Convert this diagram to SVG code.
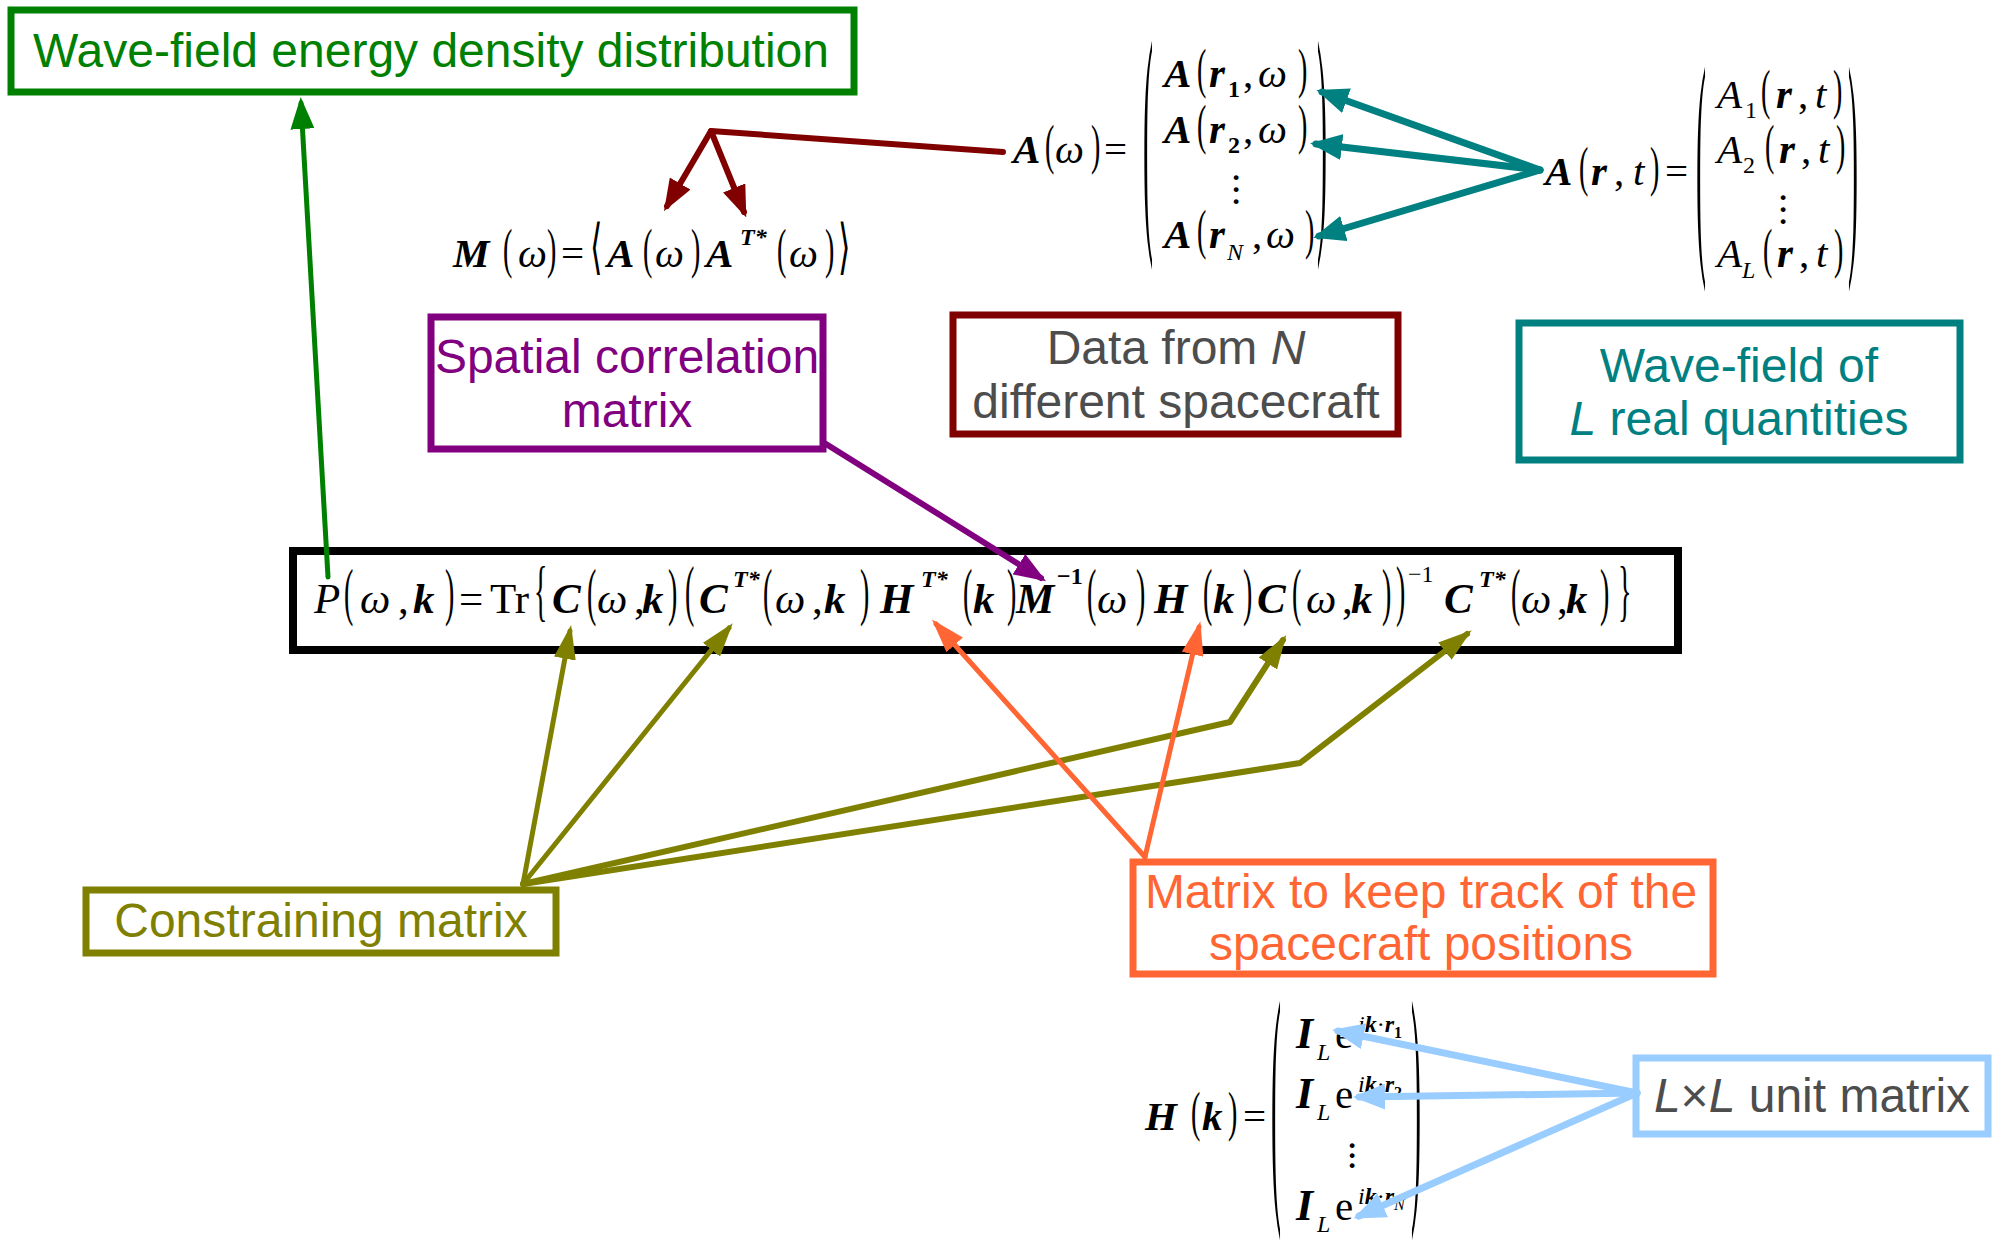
<svg xmlns="http://www.w3.org/2000/svg" width="1999" height="1241" viewBox="0 0 1999 1241">
<style>
.box{fill:#fff;stroke-width:7}
.lbl{font-family:"Liberation Sans",Arial,sans-serif;font-size:48px;text-anchor:middle}
.m{font-family:"Liberation Serif","DejaVu Serif",serif;font-size:41px;fill:#000}
.mm{font-size:43px}
.i{font-style:italic}
.b{font-style:italic;font-weight:bold}
.u{font-style:normal}
.s{font-size:24px}
.ss{font-size:16px}
.pr{font-family:"Liberation Serif","DejaVu Serif",serif;font-size:40px;fill:#000}
.ln{fill:none;stroke-linecap:round;stroke-linejoin:round}
</style>
<defs>
<marker id="hG" markerUnits="userSpaceOnUse" markerWidth="32" markerHeight="24" refX="26" refY="12" orient="auto"><path d="M0,0 L32,12 L0,24 z" fill="#008000"/></marker>
<marker id="hR" markerUnits="userSpaceOnUse" markerWidth="32" markerHeight="24" refX="26" refY="12" orient="auto"><path d="M0,0 L32,12 L0,24 z" fill="#800000"/></marker>
<marker id="hT" markerUnits="userSpaceOnUse" markerWidth="32" markerHeight="26" refX="26" refY="13" orient="auto"><path d="M0,0 L32,13 L0,26 z" fill="#008080"/></marker>
<marker id="hP" markerUnits="userSpaceOnUse" markerWidth="32" markerHeight="24" refX="26" refY="12" orient="auto"><path d="M0,0 L32,12 L0,24 z" fill="#800080"/></marker>
<marker id="hO" markerUnits="userSpaceOnUse" markerWidth="34" markerHeight="22" refX="28" refY="11" orient="auto"><path d="M0,0 L34,11 L0,22 z" fill="#808000"/></marker>
<marker id="hF" markerUnits="userSpaceOnUse" markerWidth="34" markerHeight="22" refX="28" refY="11" orient="auto"><path d="M0,0 L34,11 L0,22 z" fill="#ff6633"/></marker>
<marker id="hB" markerUnits="userSpaceOnUse" markerWidth="32" markerHeight="26" refX="26" refY="13" orient="auto"><path d="M0,0 L32,13 L0,26 z" fill="#99ccff"/></marker>
</defs>
<rect width="1999" height="1241" fill="#fff"/>

<!-- Main formula box -->
<g id="node-main">
<rect x="293" y="551" width="1385" height="99" fill="#fff" stroke="#000" stroke-width="8"/>
<text class="m mm" y="613">
<tspan x="314" class="i">P</tspan>
<tspan x="360" class="i">ω</tspan><tspan x="398" class="u">,</tspan><tspan x="413" class="b">k</tspan>
<tspan x="459" class="u">=</tspan><tspan x="490" class="u">Tr</tspan>
<tspan x="552" class="b">C</tspan><tspan x="597" class="i">ω</tspan><tspan x="634" class="u">,</tspan><tspan x="642" class="b">k</tspan>
<tspan x="699" class="b">C</tspan><tspan x="733" y="587" class="b s">T*</tspan>
<tspan x="775" y="613" class="i">ω</tspan><tspan x="812" class="u">,</tspan><tspan x="824" class="b">k</tspan>
<tspan x="880" class="b">H</tspan><tspan x="921" y="587" class="b s">T*</tspan>
<tspan x="973" y="613" class="b">k</tspan>
<tspan x="1016" class="b">M</tspan><tspan x="1057" y="584" class="s" font-weight="bold">−1</tspan>
<tspan x="1097" y="613" class="i">ω</tspan>
<tspan x="1154" class="b">H</tspan><tspan x="1213" class="b">k</tspan>
<tspan x="1257" class="b">C</tspan><tspan x="1306" class="i">ω</tspan><tspan x="1342" class="u">,</tspan><tspan x="1351" class="b">k</tspan>
<tspan x="1408" y="582" class="s u">−1</tspan>
<tspan x="1444" y="613" class="b">C</tspan><tspan x="1479" y="587" class="b s">T*</tspan>
<tspan x="1521" y="613" class="i">ω</tspan><tspan x="1557" class="u">,</tspan><tspan x="1566" class="b">k</tspan>
</text>
<g class="pr">
<text transform="translate(344 613) scale(0.7 1.6)">(</text>
<text transform="translate(445 613) scale(0.7 1.6)">)</text>
<text transform="translate(534 613) scale(0.7 1.7)">{</text>
<text transform="translate(587 613) scale(0.7 1.6)">(</text>
<text transform="translate(668 613) scale(0.7 1.6)">)</text>
<text transform="translate(685 613) scale(0.7 1.7)">(</text>
<text transform="translate(763 613) scale(0.7 1.6)">(</text>
<text transform="translate(860 613) scale(0.7 1.6)">)</text>
<text transform="translate(963 613) scale(0.7 1.6)">(</text>
<text transform="translate(1007 613) scale(0.7 1.6)">)</text>
<text transform="translate(1087 613) scale(0.7 1.6)">(</text>
<text transform="translate(1136 613) scale(0.7 1.6)">)</text>
<text transform="translate(1203 613) scale(0.7 1.6)">(</text>
<text transform="translate(1243 613) scale(0.7 1.6)">)</text>
<text transform="translate(1292 613) scale(0.7 1.6)">(</text>
<text transform="translate(1382 613) scale(0.7 1.6)">)</text>
<text transform="translate(1396 613) scale(0.7 1.7)">)</text>
<text transform="translate(1511 613) scale(0.7 1.6)">(</text>
<text transform="translate(1600 613) scale(0.7 1.6)">)</text>
<text transform="translate(1618 613) scale(0.7 1.7)">}</text>
</g>
</g>

<!-- M(omega) formula -->
<g id="node-M">
<text class="m" y="267">
<tspan x="453" class="b">M</tspan><tspan x="518" class="i">ω</tspan><tspan x="561" class="u">=</tspan>
<tspan x="607" class="b">A</tspan><tspan x="655" class="i">ω</tspan>
<tspan x="706" class="b">A</tspan><tspan x="740" y="245" class="b s">T*</tspan>
<tspan x="789" y="267" class="i">ω</tspan>
</text>
<g class="pr">
<text transform="translate(503 267) scale(0.7 1.35)">(</text>
<text transform="translate(547 267) scale(0.7 1.35)">)</text>
<text transform="translate(590 267) scale(0.8 1.5)">⟨</text>
<text transform="translate(643 267) scale(0.7 1.35)">(</text>
<text transform="translate(691 267) scale(0.7 1.35)">)</text>
<text transform="translate(777 267) scale(0.7 1.35)">(</text>
<text transform="translate(825 267) scale(0.7 1.35)">)</text>
<text transform="translate(838 267) scale(0.8 1.5)">⟩</text>
</g>
</g>

<!-- A(omega) formula -->
<g id="node-Aomega">
<text class="m" y="163">
<tspan x="1013" class="b">A</tspan><tspan x="1055" class="i">ω</tspan><tspan x="1104" class="u">=</tspan>
</text>
<text class="m" y="87"><tspan x="1164" class="b">A</tspan><tspan x="1209" class="b">r</tspan><tspan x="1228" y="97" class="s u" font-weight="bold">1</tspan><tspan x="1243" y="87" class="u">,</tspan><tspan x="1258" class="i">ω</tspan></text>
<text class="m" y="143"><tspan x="1164" class="b">A</tspan><tspan x="1209" class="b">r</tspan><tspan x="1228" y="153" class="s u" font-weight="bold">2</tspan><tspan x="1243" y="143" class="u">,</tspan><tspan x="1258" class="i">ω</tspan></text>
<text class="m" y="248"><tspan x="1164" class="b">A</tspan><tspan x="1209" class="b">r</tspan><tspan x="1227" y="260" class="s i">N</tspan><tspan x="1252" y="248" class="u">,</tspan><tspan x="1266" class="i">ω</tspan></text>
<text class="m u"><tspan x="1231" y="180">.</tspan><tspan x="1231" y="192">.</tspan><tspan x="1231" y="204">.</tspan></text>
<g class="pr">
<text transform="translate(1045 163) scale(0.7 1.35)">(</text>
<text transform="translate(1091 163) scale(0.7 1.35)">)</text>
<text transform="translate(1143 216) scale(0.75 6.3)">(</text>
<text transform="translate(1317 216) scale(0.75 6.3)">)</text>
<text transform="translate(1197 87) scale(0.7 1.35)">(</text>
<text transform="translate(1298 87) scale(0.7 1.35)">)</text>
<text transform="translate(1197 143) scale(0.7 1.35)">(</text>
<text transform="translate(1298 143) scale(0.7 1.35)">)</text>
<text transform="translate(1197 248) scale(0.7 1.35)">(</text>
<text transform="translate(1305 248) scale(0.7 1.35)">)</text>
</g>
</g>

<!-- A(r,t) formula -->
<g id="node-Art">
<text class="m" y="185">
<tspan x="1545" class="b">A</tspan><tspan x="1591" class="b">r</tspan><tspan x="1614" class="u">,</tspan><tspan x="1633" class="i">t</tspan><tspan x="1665" class="u">=</tspan>
</text>
<text class="m" y="108"><tspan x="1717" class="i">A</tspan><tspan x="1745" y="118" class="s u">1</tspan><tspan x="1776" y="108" class="b">r</tspan><tspan x="1798" class="u">,</tspan><tspan x="1815" class="i">t</tspan></text>
<text class="m" y="163"><tspan x="1717" class="i">A</tspan><tspan x="1743" y="173" class="s u">2</tspan><tspan x="1779" y="163" class="b">r</tspan><tspan x="1801" class="u">,</tspan><tspan x="1818" class="i">t</tspan></text>
<text class="m" y="267"><tspan x="1717" class="i">A</tspan><tspan x="1742" y="278" class="s i">L</tspan><tspan x="1777" y="267" class="b">r</tspan><tspan x="1799" class="u">,</tspan><tspan x="1816" class="i">t</tspan></text>
<text class="m u"><tspan x="1778" y="200">.</tspan><tspan x="1778" y="212">.</tspan><tspan x="1778" y="224">.</tspan></text>
<g class="pr">
<text transform="translate(1579 185) scale(0.7 1.35)">(</text>
<text transform="translate(1650 185) scale(0.7 1.35)">)</text>
<text transform="translate(1696 239) scale(0.75 6.2)">(</text>
<text transform="translate(1848 239) scale(0.75 6.2)">)</text>
<text transform="translate(1761 108) scale(0.7 1.35)">(</text>
<text transform="translate(1833 108) scale(0.7 1.35)">)</text>
<text transform="translate(1765 163) scale(0.7 1.35)">(</text>
<text transform="translate(1836 163) scale(0.7 1.35)">)</text>
<text transform="translate(1763 267) scale(0.7 1.35)">(</text>
<text transform="translate(1834 267) scale(0.7 1.35)">)</text>
</g>
</g>

<!-- H(k) formula -->
<g id="node-H">
<text class="m" y="1130">
<tspan x="1145" class="b">H</tspan><tspan x="1202" class="b">k</tspan><tspan x="1243" class="u">=</tspan>
</text>
<text class="m" y="1048"><tspan x="1296" class="b" font-size="44">I</tspan><tspan x="1317" y="1060" class="s i">L</tspan><tspan x="1335" y="1048" class="u">e</tspan><tspan x="1358" y="1032" class="s i">i</tspan><tspan class="s b">k</tspan><tspan class="s u">·</tspan><tspan class="s b">r</tspan><tspan y="1038" class="ss u" font-weight="bold">1</tspan></text>
<text class="m" y="1108"><tspan x="1296" class="b" font-size="44">I</tspan><tspan x="1317" y="1120" class="s i">L</tspan><tspan x="1335" y="1108" class="u">e</tspan><tspan x="1358" y="1092" class="s i">i</tspan><tspan class="s b">k</tspan><tspan class="s u">·</tspan><tspan class="s b">r</tspan><tspan y="1098" class="ss u" font-weight="bold">2</tspan></text>
<text class="m" y="1220"><tspan x="1296" class="b" font-size="44">I</tspan><tspan x="1317" y="1232" class="s i">L</tspan><tspan x="1335" y="1220" class="u">e</tspan><tspan x="1358" y="1204" class="s i">i</tspan><tspan class="s b">k</tspan><tspan class="s u">·</tspan><tspan class="s b">r</tspan><tspan y="1210" class="ss i">N</tspan></text>
<text class="m u"><tspan x="1347" y="1148">.</tspan><tspan x="1347" y="1158">.</tspan><tspan x="1347" y="1168">.</tspan></text>
<g class="pr">
<text transform="translate(1191 1130) scale(0.7 1.35)">(</text>
<text transform="translate(1228 1130) scale(0.7 1.35)">)</text>
<text transform="translate(1271 1184) scale(0.75 6.6)">(</text>
<text transform="translate(1411 1184) scale(0.75 6.6)">)</text>
</g>
</g>

<!-- Label boxes -->
<g id="node-energy">
<rect class="box" x="11" y="10" width="843" height="82" stroke="#008000"/>
<text class="lbl" x="431" y="67" fill="#008000">Wave-field energy density distribution</text>
</g>
<g id="node-spatial">
<rect class="box" x="431" y="317" width="392" height="132" stroke="#800080"/>
<text class="lbl" x="627" y="373" fill="#800080">Spatial correlation</text>
<text class="lbl" x="627" y="427" fill="#800080">matrix</text>
</g>
<g id="node-data">
<rect class="box" x="953" y="315" width="445" height="119" stroke="#800000"/>
<text class="lbl" x="1176" y="364" fill="#4d4d4d">Data from <tspan font-style="italic">N</tspan></text>
<text class="lbl" x="1176" y="418" fill="#4d4d4d">different spacecraft</text>
</g>
<g id="node-wavefield">
<rect class="box" x="1519" y="323" width="441" height="137" stroke="#008080"/>
<text class="lbl" x="1739" y="382" fill="#008080">Wave-field of</text>
<text class="lbl" x="1739" y="435" fill="#008080"><tspan font-style="italic">L</tspan> real quantities</text>
</g>
<g id="node-constraining">
<rect class="box" x="86" y="890" width="470" height="63" stroke="#808000"/>
<text class="lbl" x="321" y="937" fill="#808000">Constraining matrix</text>
</g>
<g id="node-track">
<rect class="box" x="1133" y="862" width="580" height="112" stroke="#ff6633"/>
<text class="lbl" x="1421" y="908" fill="#ff6633">Matrix to keep track of the</text>
<text class="lbl" x="1421" y="960" fill="#ff6633">spacecraft positions</text>
</g>
<g id="node-unit">
<rect class="box" x="1636" y="1058" width="352" height="76" stroke="#99ccff"/>
<text class="lbl" x="1812" y="1112" fill="#4d4d4d"><tspan font-style="italic">L</tspan>×<tspan font-style="italic">L</tspan> unit matrix</text>
</g>

<!-- Connectors -->
<g id="connectors" class="ln">
<line x1="328" y1="577" x2="301" y2="103" stroke="#008000" stroke-width="5" marker-end="url(#hG)"/>
<polyline points="1003,152 711,131 667,206" stroke="#800000" stroke-width="6" fill="none" marker-end="url(#hR)"/>
<line x1="711" y1="131" x2="744" y2="212" stroke="#800000" stroke-width="6" marker-end="url(#hR)"/>
<line x1="1540" y1="170" x2="1322" y2="92" stroke="#008080" stroke-width="7" marker-end="url(#hT)"/>
<line x1="1540" y1="170" x2="1316" y2="144" stroke="#008080" stroke-width="7" marker-end="url(#hT)"/>
<line x1="1540" y1="170" x2="1319" y2="236" stroke="#008080" stroke-width="7" marker-end="url(#hT)"/>
<line x1="826" y1="444" x2="1041" y2="578" stroke="#800080" stroke-width="6" marker-end="url(#hP)"/>
<line x1="523" y1="884" x2="570" y2="631" stroke="#808000" stroke-width="5" marker-end="url(#hO)"/>
<line x1="523" y1="884" x2="729" y2="628" stroke="#808000" stroke-width="5" marker-end="url(#hO)"/>
<polyline points="523,884 1230,722 1283,640" stroke="#808000" stroke-width="6" fill="none" marker-end="url(#hO)"/>
<polyline points="523,884 1300,763 1467,634" stroke="#808000" stroke-width="6" fill="none" marker-end="url(#hO)"/>
<line x1="1145" y1="857" x2="936" y2="624" stroke="#ff6633" stroke-width="5" marker-end="url(#hF)"/>
<line x1="1145" y1="857" x2="1199" y2="627" stroke="#ff6633" stroke-width="5" marker-end="url(#hF)"/>
<line x1="1637" y1="1093" x2="1338" y2="1031" stroke="#99ccff" stroke-width="7" marker-end="url(#hB)"/>
<line x1="1637" y1="1093" x2="1359" y2="1097" stroke="#99ccff" stroke-width="7" marker-end="url(#hB)"/>
<line x1="1637" y1="1093" x2="1359" y2="1216" stroke="#99ccff" stroke-width="7" marker-end="url(#hB)"/>
</g>
</svg>
